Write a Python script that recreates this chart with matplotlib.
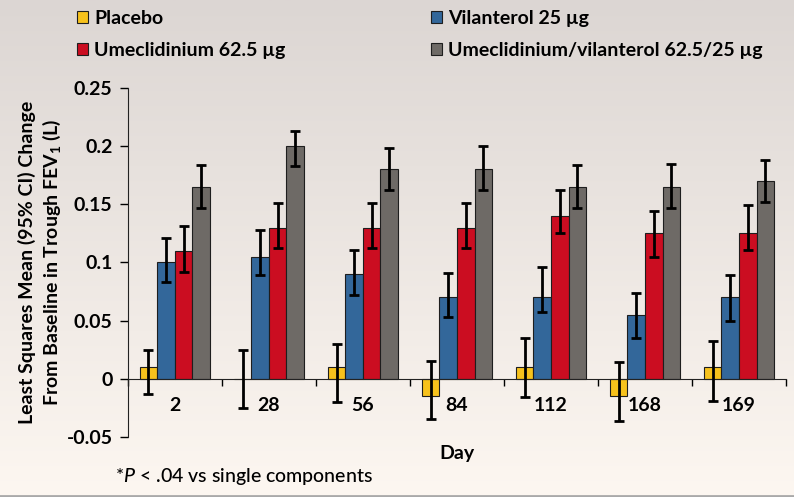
import numpy as np
import matplotlib
matplotlib.use("Agg")
import matplotlib.pyplot as plt
from matplotlib.lines import Line2D

plt.rcParams['font.family'] = ['Lato', 'DejaVu Sans']
plt.rcParams['font.weight'] = 'bold'
plt.rcParams['mathtext.fontset'] = 'custom'
plt.rcParams['mathtext.rm'] = 'Lato'
plt.rcParams['mathtext.it'] = 'Lato:italic:medium'
plt.rcParams['mathtext.bf'] = 'Lato:bold'

# data
days = ['2', '28', '56', '84', '112', '168', '169']
series = ['Placebo', 'Vilanterol 25 µg', 'Umeclidinium 62.5 µg',
          'Umeclidinium/vilanterol 62.5/25 µg']
colors = ['#F7C21C', '#33679A', '#CB0D21', '#6E6A66']

placebo = [0.01, 0.0, 0.01, -0.015, 0.01, -0.015, 0.01]
vilanterol = [0.10, 0.105, 0.09, 0.07, 0.07, 0.055, 0.07]
umec = [0.11, 0.13, 0.13, 0.13, 0.14, 0.125, 0.125]
combo = [0.165, 0.20, 0.18, 0.18, 0.165, 0.165, 0.17]

placebo_lo = [-0.013, -0.025, -0.020, -0.035, -0.016, -0.036, -0.019]
placebo_hi = [0.025, 0.025, 0.030, 0.015, 0.035, 0.014, 0.032]
vilanterol_lo = [0.083, 0.089, 0.072, 0.053, 0.057, 0.035, 0.050]
vilanterol_hi = [0.121, 0.128, 0.111, 0.091, 0.096, 0.074, 0.089]
umec_lo = [0.092, 0.112, 0.112, 0.112, 0.125, 0.105, 0.111]
umec_hi = [0.131, 0.151, 0.151, 0.151, 0.162, 0.144, 0.149]
combo_lo = [0.147, 0.183, 0.162, 0.162, 0.147, 0.147, 0.152]
combo_hi = [0.184, 0.213, 0.198, 0.200, 0.184, 0.185, 0.188]

means = [placebo, vilanterol, umec, combo]
lows = [placebo_lo, vilanterol_lo, umec_lo, combo_lo]
highs = [placebo_hi, vilanterol_hi, umec_hi, combo_hi]

fig = plt.figure(figsize=(7.94, 4.97), dpi=100)

# background gradient
bg = fig.add_axes([0, 0, 1, 1], zorder=-10)
grad = np.linspace(0, 1, 256).reshape(-1, 1)
top = np.array([220, 214, 211]) / 255
bot = np.array([253, 247, 241]) / 255
img = top + (bot - top) * grad[:, :, None]
bg.imshow(img, aspect='auto', extent=[0, 1, 0, 1])
bg.axis('off')
fig.add_artist(Line2D([0, 1], [0.002, 0.002], color='#a9a9a9', lw=2))

ax = fig.add_axes([0.161, 0.121, 0.829, 0.702])
ax.patch.set_alpha(0)

x = np.arange(len(days))
w = 0.187
for i in range(4):
    m = np.array(means[i])
    lo = m - np.array(lows[i])
    hi = np.array(highs[i]) - m
    pos = x + (i - 1.5) * w
    ax.bar(pos, m, width=w, color=colors[i], edgecolor='#1e1e1e',
           linewidth=0.8, label=series[i], zorder=2)
    ax.errorbar(pos, m, yerr=[lo, hi], fmt='none', ecolor='black',
                elinewidth=2, capsize=3.5, capthick=2, zorder=3)

ax.set_xlim(-0.5, 6.5)
ax.set_ylim(-0.05, 0.25)
ax.set_yticks([-0.05, 0, 0.05, 0.1, 0.15, 0.2, 0.25])
ax.set_yticklabels(['-0.05', '0', '0.05', '0.1', '0.15', '0.2', '0.25'])
ax.set_xticks(x)
ax.set_xticklabels(days)
ax.set_xticks(np.arange(-0.5, 7, 1), minor=True)
ax.tick_params(axis='x', which='major', length=0, pad=13, labelsize=14)
ax.tick_params(axis='x', which='minor', length=5, width=1, direction='out')
ax.tick_params(axis='y', length=6, width=1, pad=5, labelsize=14)

ax.spines['top'].set_visible(False)
ax.spines['right'].set_visible(False)
ax.spines['bottom'].set_position(('data', 0))
ax.spines['left'].set_color('#222222')
ax.spines['bottom'].set_color('#222222')

ax.set_ylabel('Least Squares Mean (95% CI) Change\nFrom Baseline in Trough FEV$_\\mathbf{1}$ (L)',
              fontsize=14, fontweight='bold', linespacing=1.25)
ax.yaxis.set_label_coords(-0.099, 0.5)

fig.text(0.576, 0.088, 'Day', fontsize=14, fontweight='bold', ha='center', va='center')
fig.text(0.145, 0.042, '*$\\mathit{P}$ < .04 vs single components', fontsize=14,
         fontweight='medium', ha='left', va='center')

h, l = ax.get_legend_handles_labels()
order = [0, 2, 1, 3]
fig.legend([h[k] for k in order], [l[k] for k in order], ncol=2,
           loc='upper left', bbox_to_anchor=(0.097, 0.98), frameon=False,
           prop={'weight': 'bold', 'size': 14}, handlelength=0.57,
           handleheight=0.57, handletextpad=0.3, columnspacing=7.5,
           labelspacing=0.75, borderpad=0, borderaxespad=0)

fig.savefig('out.png', dpi=100)
